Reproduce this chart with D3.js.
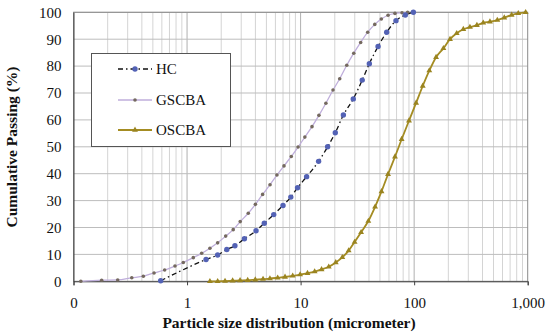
<!DOCTYPE html>
<html><head><meta charset="utf-8">
<script src="https://cdn.jsdelivr.net/npm/d3@7/dist/d3.min.js"></script>
<style>html,body{margin:0;padding:0;background:#fff}svg{display:block}</style>
</head><body><svg id="c" width="550" height="336"></svg>
<script>
// ---- data ----
const xTickValues = [0.1, 1, 10, 100, 1000];
const xTickLabels = ["0", "1", "10", "100", "1,000"];
const yTickValues = [0,10,20,30,40,50,60,70,80,90,100];
const seriesNames = ["HC", "GSCBA", "OSCBA"];

const hcSize = [0.586,1.47,1.86,2.24,2.64,3.2,4.05,4.79,5.8,7.0,8.2,9.4,11.3,14.4,17.3,20.2,23.8,29.1,34.9,40.3,48.1,57.3,69.2,83.6,98.4];
const hcPass = [0.2,8.1,9.8,11.8,13.2,15.8,18.8,21.6,24.8,28.2,31.3,34.8,38.9,44.6,50.0,55.2,61.8,67.8,74.8,80.9,87.3,92.6,96.9,99.0,100];

const gsSize = [0.116,0.177,0.245,0.326,0.412,0.512,0.635,0.783,0.927,1.135,1.345,1.59,1.86,2.19,2.55,2.94,3.46,4.0,4.63,5.38,6.19,7.14,8.28,9.5,10.9,12.6,14.5,16.7,19.3,22.1,25.5,29.4,33.8,39,45,51.4,58.9,67.8,78.2,87.7];
const gsPass = [0,0.4,0.5,1.3,1.9,3.1,4.2,5.7,7.0,8.8,10.4,12.3,14.3,16.8,19.2,22.2,25.3,28.6,32.3,35.9,39.5,42.9,46.4,49.9,53.6,57.5,61.7,66.2,71.1,75.3,80.3,84.8,88.8,92.6,95.5,97.5,98.9,99.6,99.85,100];

const osSize = [1.59,1.86,2.16,2.52,2.93,3.42,3.99,4.67,5.37,6.28,7.29,8.52,9.9,11.5,13.3,15.3,17.7,20.4,23.3,26.5,29.9,34.1,39.5,45.3,51.6,58.9,67.8,77.6,90.1,104,119,136,156,181,207,237,271,310,357,406,465,540,622,722,826,959];
const osPass = [0,0,0.1,0.2,0.3,0.4,0.6,0.8,1.0,1.3,1.6,2.0,2.5,3.0,3.6,4.4,5.4,7.0,8.9,11.4,14.6,18.2,22.4,27.7,33.4,39.8,46.3,52.8,59.7,66.3,72.6,78.3,83.3,86.6,90.0,92.2,93.7,94.5,95.2,96.1,96.5,97.1,98.0,99.0,99.6,100];

// ---- layout ----
const L = 73.5, R = 527.7, T = 12.3, B = 281.3;
const svg = d3.select("#c");
const x = d3.scaleLog().domain([0.1, 1000]).range([L, R]);
const y = d3.scaleLinear().domain([0, 100]).range([B, T]);
const serif = "'Liberation Serif','DejaVu Serif',serif";

// grid
const minor = x.ticks().filter(v => xTickValues.indexOf(v) < 0);
svg.append("g").selectAll("line").data(minor).join("line")
  .attr("x1", d => x(d)).attr("x2", d => x(d)).attr("y1", T).attr("y2", B)
  .attr("stroke", "#d4d4d4").attr("stroke-width", 1);
svg.append("g").selectAll("line").data(xTickValues.slice(1, -1)).join("line")
  .attr("x1", d => x(d)).attr("x2", d => x(d)).attr("y1", T).attr("y2", B)
  .attr("stroke", "#b0b0b0").attr("stroke-width", 1);
svg.append("g").selectAll("line").data(yTickValues.slice(1)).join("line")
  .attr("x1", L).attr("x2", R).attr("y1", d => y(d)).attr("y2", d => y(d))
  .attr("stroke", "#bdbdbd").attr("stroke-width", 1);

// frame
svg.append("rect").attr("x", L).attr("y", T).attr("width", R - L).attr("height", B - T)
  .attr("fill", "none").attr("stroke", "#8a8a8a").attr("stroke-width", 1);

// axes
const xAxis = d3.axisBottom(x).tickValues(xTickValues)
  .tickFormat((d, i) => xTickLabels[i]).tickSize(4).tickPadding(12);
const gx = svg.append("g").attr("transform", `translate(0,${B})`).call(xAxis);
gx.select(".domain").attr("stroke", "#404040");
gx.selectAll(".tick line").attr("stroke", "#404040");
gx.selectAll("text").attr("font-family", serif).attr("font-size", 15).attr("fill", "#111");

const yAxis = d3.axisLeft(y).tickValues(yTickValues).tickSize(0).tickPadding(12);
const gy = svg.append("g").attr("transform", `translate(${L},0)`).call(yAxis);
gy.select(".domain").attr("stroke", "#404040");
gy.selectAll("text").attr("font-family", serif).attr("font-size", 15).attr("fill", "#111");

// titles
svg.append("text").attr("x", 289).attr("y", 328).attr("text-anchor", "middle")
  .attr("font-family", serif).attr("font-weight", "bold").attr("font-size", 15.5)
  .attr("fill", "#111").text("Particle size distribution (micrometer)");
svg.append("text").attr("transform", "translate(17,147) rotate(-90)").attr("text-anchor", "middle")
  .attr("font-family", serif).attr("font-weight", "bold").attr("font-size", 15.5)
  .attr("fill", "#111").text("Cumulative Passing (%)");

// series
const line = d3.line().x(d => x(d[0])).y(d => y(d[1])).curve(d3.curveMonotoneX);
const hc = d3.zip(hcSize, hcPass), gs = d3.zip(gsSize, gsPass), os = d3.zip(osSize, osPass);

svg.append("path").datum(gs).attr("d", line).attr("fill", "none")
  .attr("stroke", "#bfaedb").attr("stroke-width", 1.3);
svg.append("path").datum(os).attr("d", line).attr("fill", "none")
  .attr("stroke", "#a48c22").attr("stroke-width", 1.8);
svg.append("path").datum(hc).attr("d", line).attr("fill", "none")
  .attr("stroke", "#111").attr("stroke-width", 1.3).attr("stroke-dasharray", "5,3,1.5,3");

const tri = d3.symbol().type(d3.symbolTriangle).size(15);
svg.append("g").selectAll("path").data(os).join("path")
  .attr("d", tri).attr("transform", d => `translate(${x(d[0])},${y(d[1])})`)
  .attr("fill", "#9a8420");
svg.append("g").selectAll("circle").data(gs).join("circle")
  .attr("cx", d => x(d[0])).attr("cy", d => y(d[1])).attr("r", 1.8).attr("fill", "#74695f");
svg.append("g").selectAll("circle").data(hc).join("circle")
  .attr("cx", d => x(d[0])).attr("cy", d => y(d[1])).attr("r", 2.7).attr("fill", "#5362b5");

// legend
const lg = svg.append("g");
lg.append("rect").attr("x", 91.5).attr("y", 53.5).attr("width", 139).attr("height", 93)
  .attr("fill", "#fff").attr("stroke", "#555").attr("stroke-width", 1);
const ly = [69, 100, 130];
const lstyle = [
  {stroke: "#111", w: 1.3, dash: "5,3,1.5,3"},
  {stroke: "#bfaedb", w: 1.3, dash: null},
  {stroke: "#a48c22", w: 1.8, dash: null}
];
seriesNames.forEach((n, i) => {
  lg.append("line").attr("x1", 118).attr("x2", 152).attr("y1", ly[i]).attr("y2", ly[i])
    .attr("stroke", lstyle[i].stroke).attr("stroke-width", lstyle[i].w)
    .attr("stroke-dasharray", lstyle[i].dash);
  if (i === 0) lg.append("circle").attr("cx", 135).attr("cy", ly[i]).attr("r", 2.7).attr("fill", "#5362b5");
  if (i === 1) lg.append("circle").attr("cx", 135).attr("cy", ly[i]).attr("r", 1.8).attr("fill", "#74695f");
  if (i === 2) lg.append("path").attr("d", tri).attr("transform", `translate(135,${ly[i]})`).attr("fill", "#9a8420");
  lg.append("text").attr("x", 156).attr("y", ly[i]).attr("dy", "0.35em")
    .attr("font-family", serif).attr("font-size", 15).attr("fill", "#111").text(n);
});
</script></body></html>
